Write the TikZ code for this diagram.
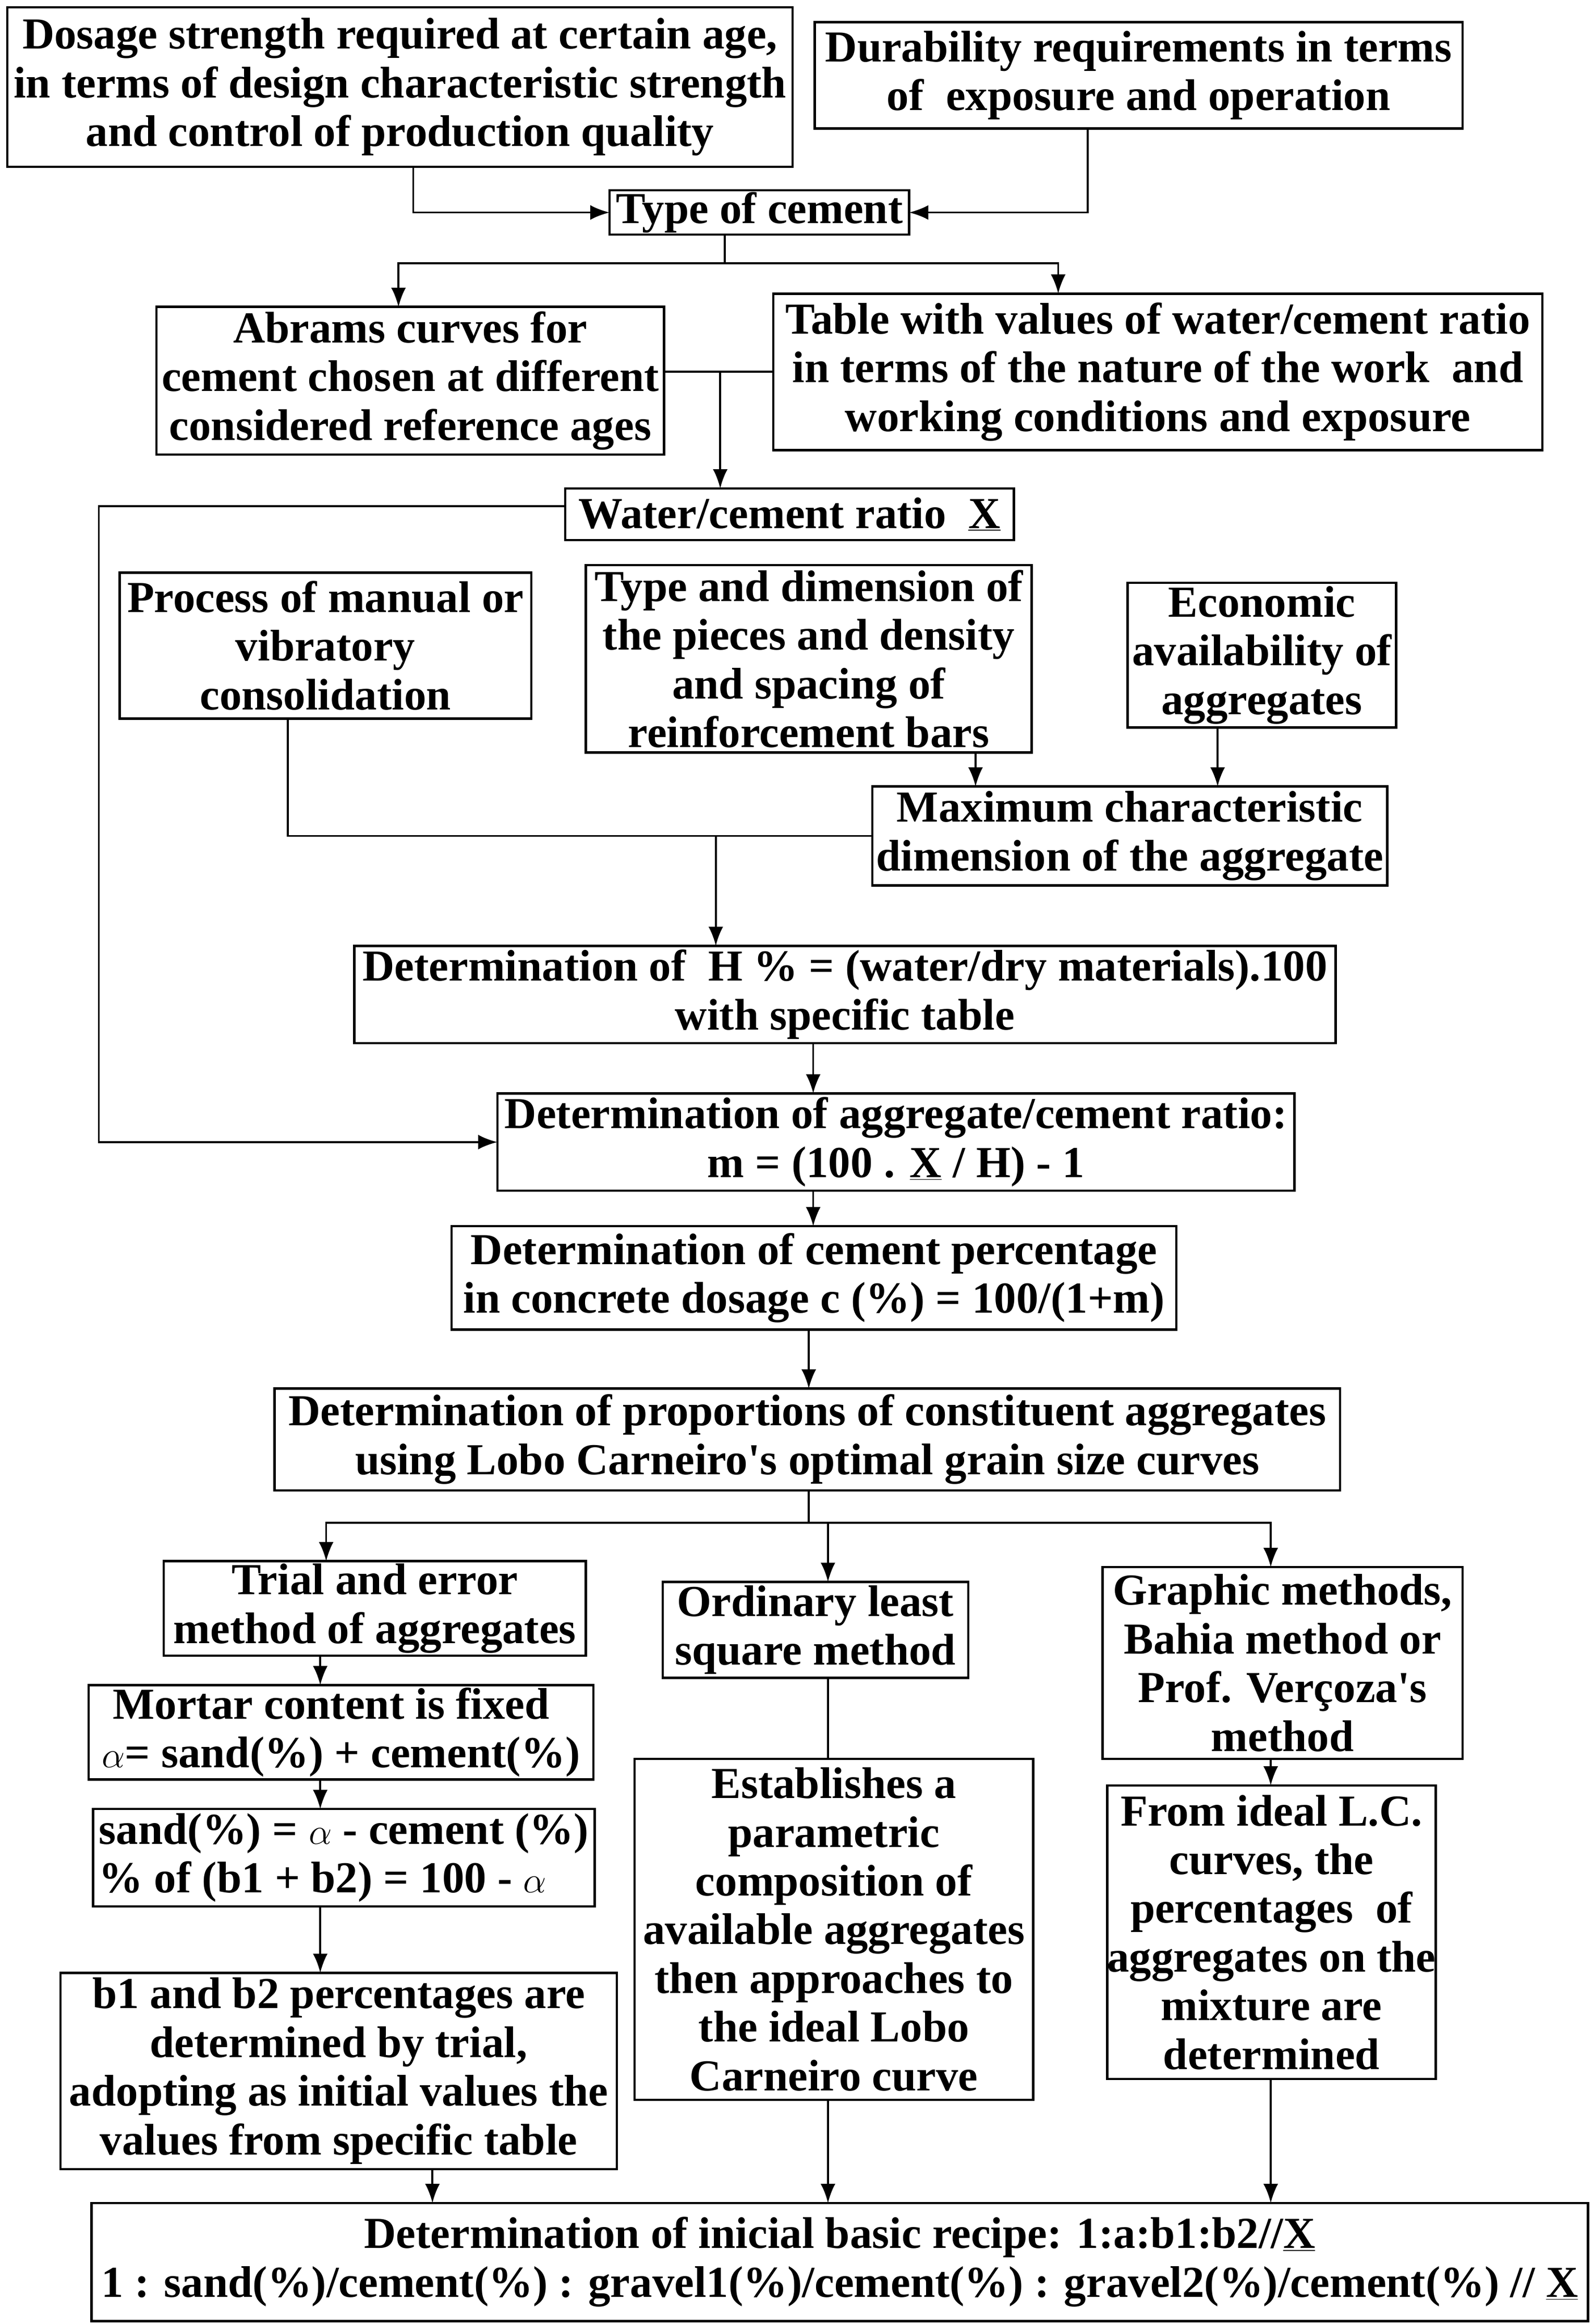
\documentclass[tikz,border=0pt]{standalone}
\usepackage{fontspec}
\setmainfont{Liberation Serif}
\usetikzlibrary{arrows.meta}
\newcommand\mybx[7][]{%
  \pgfmathsetmacro\bxw{#5-#3}\pgfmathsetmacro\bxh{#6-#4}%
  \node[box,#1,minimum width=\bxw pt,minimum height=\bxh pt] (#2) at ({(#3+#5)/2},{(#4+#6)/2}) {#7};}
\begin{document}
\begin{tikzpicture}[x=1pt,y=-1pt,
  box/.style={draw,line width=1.6pt,inner sep=0pt,outer sep=0pt,align=center,
    font=\fontsize{30}{33}\selectfont\bfseries},
  lbox/.style={align=left},
  conn/.style={line width=1.3pt},
  arr/.style={conn,-{Latex[length=13pt,width=10pt]}}]
\path[fill=white,use as bounding box] (0,0) rectangle (1080,1575);
% boxes
\mybx{dosage}{5}{5}{537}{113}{Dosage strength required at certain age,\\ in terms of design characteristic strength\\ and control of production quality}
\mybx{dur}{552}{15}{991}{87}{Durability requirements in terms\\ of\ \ exposure and operation}
\mybx{cement}{413}{129}{616}{159}{Type of cement}
\mybx{abrams}{106}{208}{450}{308}{Abrams curves for\\ cement chosen at different\\ considered reference ages}
\mybx{table}{524}{199}{1045}{305}{Table with values of water/cement ratio\\ in terms of the nature of the work\ \ and\\ working conditions and exposure}
\mybx{wc}{383}{331}{687}{366}{Water/cement ratio\ \ \underline{X}}
\mybx{proc}{81}{388}{360}{487}{Process of manual or\\ vibratory\\ consolidation}
\mybx{type}{397}{383}{699}{510}{Type and dimension of\\ the pieces and density\\ and spacing of\\ reinforcement bars}
\mybx{econ}{764}{395}{946}{493}{Economic\\ availability of\\ aggregates}
\mybx{max}{591}{533}{940}{600}{Maximum characteristic\\ dimension of the aggregate}
\mybx{hbox}{240}{641}{905}{707}{Determination of\ \ H \% = (water/dry materials).100\\ with specific table}
\mybx{agg}{337}{741}{877}{807}{Determination of aggregate/cement ratio:\\ m = (100 . \underline{X} / H) - 1}
\mybx{cpct}{306}{831}{797}{901}{Determination of cement percentage\\ in concrete dosage c (\%) = 100/(1+m)}
\mybx{prop}{186}{941}{908}{1010}{Determination of proportions of constituent aggregates\\ using Lobo Carneiro\textquotesingle s optimal grain size curves}
\mybx{trial}{111}{1058}{397}{1122}{Trial and error\\ method of aggregates}
\mybx{ols}{449}{1072}{656}{1137}{Ordinary least\\ square method}
\mybx{graph}{747}{1062}{991}{1192}{Graphic methods,\\ Bahia method or\\ Prof. Verçoza\textquotesingle s\\ method}
\mybx[lbox]{mortar}{60}{1142}{402}{1206}{\ Mortar content is fixed\\ $\alpha$= sand(\%) + cement(\%)}
\mybx[lbox]{sand}{63}{1226}{403}{1292}{sand(\%) = $\alpha$ - cement (\%)\\ \% of (b1 + b2) = 100 - $\alpha$}
\mybx{b1}{41}{1337}{418}{1470}{b1 and b2 percentages are\\ determined by trial,\\ adopting as initial values the\\ values from specific table}
\mybx{estab}{430}{1192}{700}{1423}{Establishes a\\ parametric\\ composition of\\ available aggregates\\ then approaches to\\ the ideal Lobo\\ Carneiro curve}
\mybx{ideal}{752}{1210}{971}{1409}{From ideal L.C.\\ curves, the\\ percentages\ \ of\\ aggregates on the\\ mixture are\\ determined}
\mybx{final}{62}{1493}{1076}{1573}{Determination of inicial basic recipe: 1:a:b1:b2//\underline{X}\\ 1 : sand(\%)/cement(\%) : gravel1(\%)/cement(\%) : gravel2(\%)/cement(\%) // \underline{X}}
% x guides
\foreach \k in {195,217,221,270,280,293,548,551,561,661,717,737,825,861}
  \coordinate (k\k) at (\k,0);
\coordinate (s1) at (491,178.5);
\coordinate (s2) at (488,252);
\coordinate (s3) at (67,343);
\coordinate (s4) at (485,566.5);
\coordinate (s5) at (548,1032);
% connectors
\draw[arr] (dosage.south -| k280) |- (cement.west);
\draw[arr] (dur.south -| k737) |- (cement.east);
\draw[conn] (cement.south -| s1) -- (s1);
\draw[arr] (s1) -| (abrams.north -| k270);
\draw[arr] (s1) -| (table.north -| k717);
\draw[conn] (abrams.east |- s2) -- (table.west |- s2);
\draw[arr] (s2) -- (wc.north -| s2);
\draw[arr] (wc.west |- s3) -- (s3) |- (agg.west);
\draw[arr] (type.south -| k661) -- (max.north -| k661);
\draw[arr] (econ.south -| k825) -- (max.north -| k825);
\draw[conn] (proc.south -| k195) |- (max.west);
\draw[arr] (s4) -- (hbox.north -| s4);
\draw[arr] (hbox.south -| k551) -- (agg.north -| k551);
\draw[arr] (agg.south -| k551) -- (cpct.north -| k551);
\draw[arr] (cpct.south -| k548) -- (prop.north -| k548);
\draw[conn] (prop.south -| s5) -- (s5);
\draw[arr] (s5) -| (trial.north -| k221);
\draw[arr] (s5) -| (graph.north -| k861);
\draw[arr] (s5 -| k561) -- (ols.north -| k561);
\draw[arr] (trial.south -| k217) -- (mortar.north -| k217);
\draw[arr] (mortar.south -| k217) -- (sand.north -| k217);
\draw[arr] (sand.south -| k217) -- (b1.north -| k217);
\draw[conn] (ols.south -| k561) -- (estab.north -| k561);
\draw[arr] (graph.south -| k861) -- (ideal.north -| k861);
\draw[arr] (b1.south -| k293) -- (final.north -| k293);
\draw[arr] (estab.south -| k561) -- (final.north -| k561);
\draw[arr] (ideal.south -| k861) -- (final.north -| k861);
\end{tikzpicture}
\end{document}
